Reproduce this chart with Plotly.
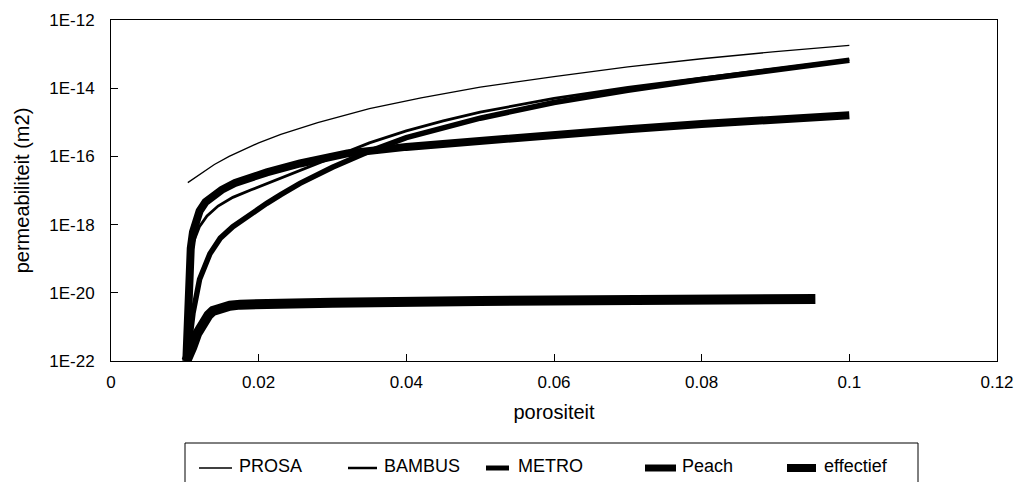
import plotly.graph_objects as go

# porosity (-) and permeability (m2) per model
prosa_phi = [0.0104, 0.012, 0.014, 0.016, 0.018, 0.020, 0.023, 0.028, 0.035, 0.042,
             0.050, 0.060, 0.070, 0.080, 0.090, 0.100]
prosa_k = [1.7e-17, 3.0e-17, 5.8e-17, 1.0e-16, 1.6e-16, 2.5e-16, 4.4e-16, 9.8e-16, 2.5e-15, 5.2e-15,
           1.07e-14, 2.2e-14, 4.2e-14, 7.3e-14, 1.18e-13, 1.8e-13]

bambus_phi = [0.0102, 0.0104, 0.0107, 0.0112, 0.0120, 0.0130, 0.0145, 0.0165, 0.0190, 0.0220,
              0.0260, 0.030, 0.035, 0.040, 0.045, 0.050, 0.060, 0.070, 0.080, 0.090, 0.100]
bambus_k = [1e-22, 3.2e-21, 5.0e-20, 3.2e-19, 8.9e-19, 1.8e-18, 3.5e-18, 6.3e-18, 1.05e-17, 1.9e-17,
            4.2e-17, 9.1e-17, 2.5e-16, 5.6e-16, 1.1e-15, 2.0e-15, 5.0e-15, 1.05e-14, 2.0e-14, 3.7e-14,
            6.9e-14]

metro_phi = [0.0102, 0.0106, 0.0111, 0.0120, 0.0134, 0.0148, 0.0165, 0.0188, 0.0211, 0.0230,
             0.0256, 0.030, 0.035, 0.040, 0.045, 0.050, 0.060, 0.070, 0.080, 0.090, 0.100]
metro_k = [1e-22, 3.2e-22, 2.5e-21, 2.5e-20, 1.4e-19, 4.0e-19, 8.7e-19, 2.0e-18, 4.2e-18, 7.6e-18,
           1.62e-17, 4.8e-17, 1.41e-16, 3.55e-16, 7.1e-16, 1.32e-15, 3.8e-15, 8.7e-15, 1.8e-14, 3.55e-14,
           6.6e-14]

peach_phi = [0.0102, 0.0104, 0.0106, 0.0108, 0.0111, 0.0115, 0.0120, 0.0128, 0.0138, 0.0150,
             0.0168, 0.0190, 0.0211, 0.0256, 0.0320, 0.040, 0.050, 0.060, 0.070, 0.080,
             0.090, 0.100]
peach_k = [1e-22, 1.6e-21, 2.5e-20, 2.0e-19, 6.0e-19, 1.0e-18, 2.5e-18, 4.6e-18, 7.1e-18, 1.05e-17,
           1.66e-17, 2.5e-17, 3.4e-17, 6.2e-17, 1.23e-16, 1.9e-16, 2.95e-16, 4.3e-16, 6.3e-16, 8.9e-16,
           1.2e-15, 1.62e-15]

eff_phi = [0.0102, 0.0106, 0.0110, 0.01165, 0.0125, 0.0132, 0.0138, 0.0150, 0.0161, 0.0175,
           0.0215, 0.030, 0.050, 0.070, 0.0954]
eff_k = [1e-22, 1.4e-22, 2.5e-22, 6.2e-22, 1.4e-21, 2.2e-21, 2.95e-21, 3.7e-21, 4.2e-21, 4.5e-21,
         4.8e-21, 5.1e-21, 5.75e-21, 6.2e-21, 6.6e-21]

names = ["PROSA", "BAMBUS", "METRO", "Peach", "effectief"]
phis = [prosa_phi, bambus_phi, metro_phi, peach_phi, eff_phi]
perms = [prosa_k, bambus_k, metro_k, peach_k, eff_k]
widths = [1.3, 2.8, 5.5, 8, 10]

x_ticks = [0, 0.02, 0.04, 0.06, 0.08, 0.1, 0.12]
x_labels = ["0", "0.02", "0.04", "0.06", "0.08", "0.1", "0.12"]
y_ticks = [1e-22, 1e-20, 1e-18, 1e-16, 1e-14, 1e-12]
y_labels = ["1E-22", "1E-20", "1E-18", "1E-16", "1E-14", "1E-12"]

W, H = 1015, 482
ML, MR, MT, MB = 111, 18, 20, 121
PW, PH = W - ML - MR, H - MT - MB

fig = go.Figure()
for name, xs, ys, w in zip(names, phis, perms, widths):
    fig.add_trace(go.Scatter(x=xs, y=ys, mode="lines", name=name, showlegend=False,
                             line=dict(color="black", width=w)))

font = dict(family="Liberation Sans, Arial, sans-serif", size=17, color="black")
legend_font = dict(family="Liberation Sans, Arial, sans-serif", size=18, color="black")


def px_x(px):
    return (px - ML) / PW


def px_y(py):
    return (H - MB - py) / PH


# legend box below the plot, drawn in paper space
shapes = [dict(type="rect", xref="paper", yref="paper",
               x0=px_x(185), x1=px_x(918), y0=px_y(490), y1=px_y(443),
               line=dict(color="black", width=1), fillcolor="white", layer="above")]
annotations = []
legend_x = [(199, 232, 237), (348, 377, 382), (486, 509, 516), (645, 676, 680), (787, 816, 822)]
legend_w = [1.3, 2.5, 5, 7, 8]
for name, (a, b, t), w in zip(names, legend_x, legend_w):
    shapes.append(dict(type="line", xref="paper", yref="paper",
                       x0=px_x(a), x1=px_x(b), y0=px_y(468), y1=px_y(468),
                       line=dict(color="black", width=w)))
    annotations.append(dict(text=name, xref="paper", yref="paper", x=px_x(t), y=px_y(466),
                            xanchor="left", yanchor="middle", showarrow=False, font=legend_font))

fig.update_layout(
    width=W, height=H,
    margin=dict(l=ML, r=MR, t=MT, b=MB, autoexpand=False),
    paper_bgcolor="white", plot_bgcolor="white",
    font=font, showlegend=False,
    shapes=shapes, annotations=annotations,
)
fig.update_xaxes(range=[0, 0.12], tickvals=x_ticks, ticktext=x_labels, automargin=False,
                 showgrid=False, zeroline=False, showline=True, linecolor="black", linewidth=1,
                 mirror=True, ticks="inside", ticklen=7, tickcolor="black",
                 ticklabeloverflow="allow", ticklabelstandoff=6,
                 title=dict(text="porositeit", standoff=13))
fig.update_yaxes(type="log", range=[-22, -12], tickvals=y_ticks, ticktext=y_labels, automargin=False,
                 showgrid=False, zeroline=False, showline=True, linecolor="black", linewidth=1,
                 mirror=True, ticks="inside", ticklen=7, tickcolor="black",
                 ticklabelstandoff=12,
                 title=dict(text="permeabiliteit (m2)", standoff=14))

fig.write_html("out.html")
